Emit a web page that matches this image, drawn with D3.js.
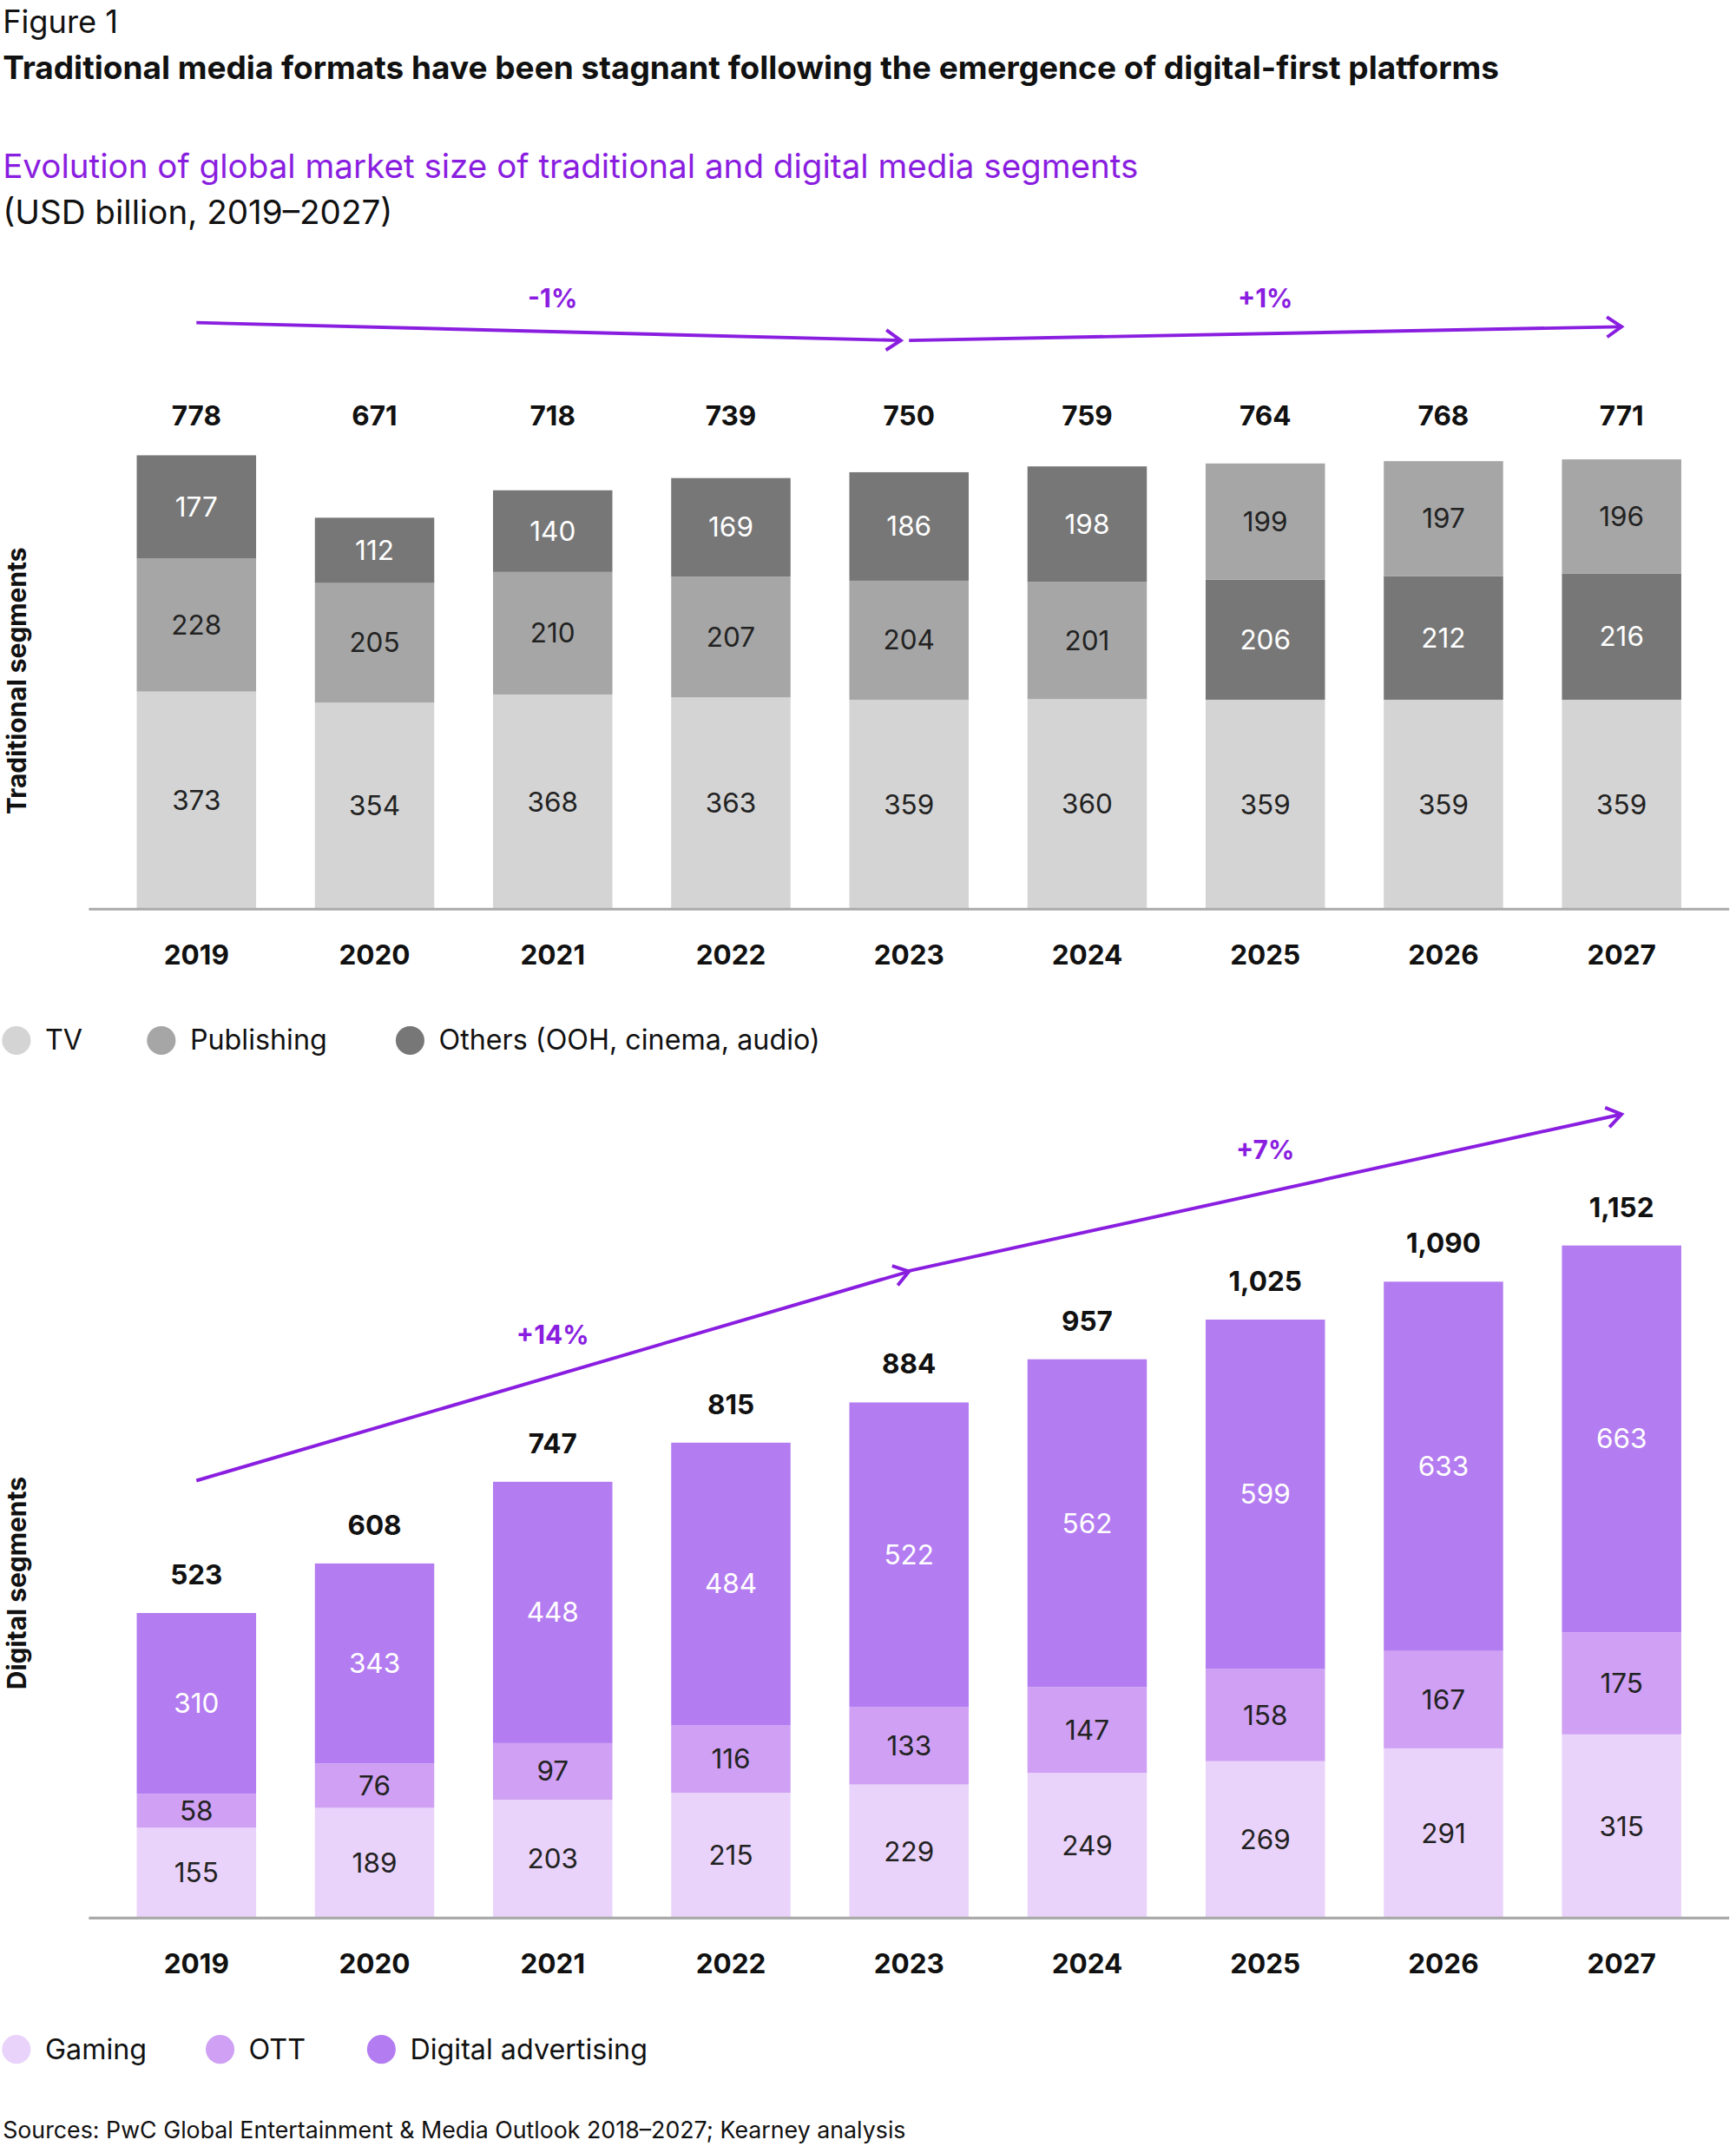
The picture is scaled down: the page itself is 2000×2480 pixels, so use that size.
<!DOCTYPE html>
<html><head><meta charset="utf-8">
<script src="https://cdn.jsdelivr.net/npm/d3@7/dist/d3.min.js"></script>
<style>body{margin:0;background:#fff}</style>
</head><body>
<svg id="c" width="2000" height="2480" viewBox="0 0 1270 1574.8"></svg>
<script>
const years = ["2019","2020","2021","2022","2023","2024","2025","2026","2027"];
const tv = [373,354,368,363,359,360,359,359,359];
const publishing = [228,205,210,207,204,201,199,197,196];
const others = [177,112,140,169,186,198,206,212,216];
const tradTotals = ["778","671","718","739","750","759","764","768","771"];
const gaming = [155,189,203,215,229,249,269,291,315];
const ott = [58,76,97,116,133,147,158,167,175];
const digAd = [310,343,448,484,522,562,599,633,663];
const digTotals = ["523","608","747","815","884","957","1,025","1,090","1,152"];

const svg = d3.select("#c");
const F = "Inter, 'Open Sans', sans-serif";
const PURPLE = "#8a1ee0";
const x = d3.scaleBand().domain(years).range([87,1243]).paddingInner(0.33).paddingOuter(0.1);
const k = 0.4267;

function txt(t,xx,yy,o={}){
  return svg.append("text").attr("x",xx).attr("y",yy).text(t)
   .attr("font-family",F).attr("font-size",o.size||20).attr("font-weight",o.weight||400)
   .attr("fill",o.fill||"#111").attr("text-anchor",o.anchor||"start");
}
txt("Figure 1",2,24,{size:23});
txt("Traditional media formats have been stagnant following the emergence of digital-first platforms",2,58,{size:23.5,weight:700});
txt("Evolution of global market size of traditional and digital media segments",2,130,{size:24.5,fill:PURPLE});
txt("(USD billion, 2019–2027)",2,164,{size:24.5});

function panel(base, series, totals, totalY, yearY, ylabel, ylabelY){
  const y = d3.scaleLinear().domain([0,1]).range([base, base-k]);
  years.forEach((yr,i)=>{
    let acc=0;
    series(i).forEach(s=>{
      const v=s.v, y0=base-acc*k, y1=base-(acc+v)*k;
      svg.append("rect").attr("x",x(yr)).attr("width",x.bandwidth())
        .attr("y",y1).attr("height",y0-y1).attr("fill",s.c);
      txt(String(v),x(yr)+x.bandwidth()/2,(y0+y1)/2+7,{anchor:"middle",fill:s.t});
      acc+=v;
    });
    const ty = totalY===null ? base-acc*k-21 : totalY;
    txt(totals[i],x(yr)+x.bandwidth()/2,ty,{anchor:"middle",weight:700});
  });
  const ax = svg.append("g").attr("transform",`translate(0,${base})`)
    .call(d3.axisBottom(x).tickSize(0).tickPadding(26));
  ax.select(".domain").remove();
  ax.selectAll("text").attr("font-family",F).attr("font-size",20).attr("font-weight",700).attr("fill","#111");
  svg.append("line").attr("x1",65).attr("x2",1265).attr("y1",base).attr("y2",base)
    .attr("stroke","#aaa").attr("stroke-width",2);
  svg.append("text").attr("transform",`translate(19,${ylabelY}) rotate(-90)`).text(ylabel)
    .attr("font-family",F).attr("font-size",19).attr("font-weight",700).attr("text-anchor","middle").attr("fill","#111");
}
const C = {tv:"#d4d4d4",pub:"#a6a6a6",oth:"#777777",gam:"#ead3fa",ott:"#cfa0f3",ad:"#b47cf1"};
panel(665, i=> i<6 ? [{v:tv[i],c:C.tv,t:"#222"},{v:publishing[i],c:C.pub,t:"#222"},{v:others[i],c:C.oth,t:"#fff"}]
                  : [{v:tv[i],c:C.tv,t:"#222"},{v:others[i],c:C.oth,t:"#fff"},{v:publishing[i],c:C.pub,t:"#222"}],
  tradTotals, 311, 708, "Traditional segments", 498);
panel(1403, i=>[{v:gaming[i],c:C.gam,t:"#222"},{v:ott[i],c:C.ott,t:"#222"},{v:digAd[i],c:C.ad,t:"#fff"}],
  digTotals, null, 1447, "Digital segments", 1158);

function arrow(x1,y1,x2,y2){
  svg.append("line").attr("x1",x1).attr("y1",y1).attr("x2",x2).attr("y2",y2)
    .attr("stroke",PURPLE).attr("stroke-width",2.5);
  const a=Math.atan2(y2-y1,x2-x1), L=13, w=0.6;
  svg.append("path").attr("d",`M${x2-L*Math.cos(a-w)},${y2-L*Math.sin(a-w)}L${x2},${y2}L${x2-L*Math.cos(a+w)},${y2-L*Math.sin(a+w)}`)
    .attr("fill","none").attr("stroke",PURPLE).attr("stroke-width",2.5);
}
const cx = yr=>x(yr)+x.bandwidth()/2;
arrow(cx("2019"),236,cx("2023")-6,249);
arrow(cx("2023"),249,cx("2027"),239);
txt("-1%",cx("2021"),225,{anchor:"middle",weight:700,fill:PURPLE,size:19});
txt("+1%",cx("2025"),225,{anchor:"middle",weight:700,fill:PURPLE,size:19});
arrow(cx("2019"),1083,cx("2023"),930);
arrow(cx("2023")-2,930,cx("2027"),815);
txt("+14%",cx("2021"),983,{anchor:"middle",weight:700,fill:PURPLE,size:19});
txt("+7%",cx("2025"),848,{anchor:"middle",weight:700,fill:PURPLE,size:19});

function legend(yy,items){
  items.forEach(d=>{
    svg.append("circle").attr("cx",d.x).attr("cy",yy).attr("r",10.5).attr("fill",d.c);
    txt(d.l,d.x+21,yy+7,{size:20.5});
  });
}
legend(761,[{x:12,c:C.tv,l:"TV"},{x:118,c:C.pub,l:"Publishing"},{x:300,c:C.oth,l:"Others (OOH, cinema, audio)"}]);
legend(1499,[{x:12,c:C.gam,l:"Gaming"},{x:161,c:C.ott,l:"OTT"},{x:279,c:C.ad,l:"Digital advertising"}]);
txt("Sources: PwC Global Entertainment & Media Outlook 2018–2027; Kearney analysis",2,1564,{size:17});
</script>
</body></html>
